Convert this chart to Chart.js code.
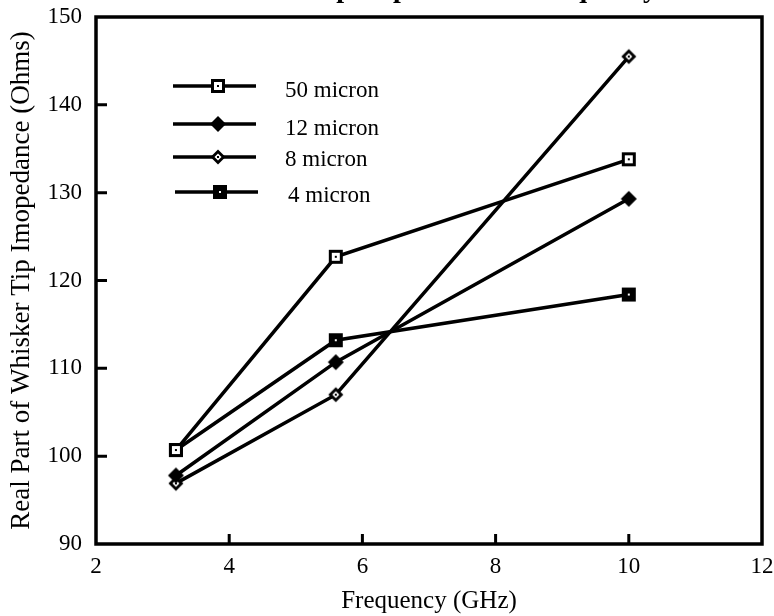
<!DOCTYPE html>
<html><head><meta charset="utf-8">
<script src="https://cdn.jsdelivr.net/npm/chart.js@4/dist/chart.umd.min.js"></script>
<style>html,body{margin:0;padding:0;background:#fff;}canvas{display:block;}</style>
</head><body>
<canvas id="c" width="774" height="616"></canvas>
<script>
const chartTitle = "Whisker Tip Impedance vs Frequency";
const xTitle = "Frequency (GHz)";
const yTitle = "Real Part of Whisker Tip Imopedance (Ohms)";
const freq = [3.2, 5.6, 10];
const seriesNames = ["50 micron", "12 micron", "8 micron", "4 micron"];
const s50 = [100.7, 122.7, 133.8];
const s12 = [97.8, 110.7, 129.3];
const s8  = [96.9, 107.0, 145.5];
const s4  = [100.7, 113.2, 118.4];
const xTicks = [2, 4, 6, 8, 10, 12];
const yTicks = [90, 100, 110, 120, 130, 140, 150];

const FONT = "'Liberation Serif', 'DejaVu Serif', serif";

function marker(kind) {
  const c = document.createElement('canvas');
  c.width = 18; c.height = 18;
  const g = c.getContext('2d');
  g.fillStyle = '#000';
  if (kind === 'openSquare') {
    g.fillRect(2, 2, 14, 14);
    g.fillStyle = '#fff'; g.fillRect(5, 5, 8, 8);
    g.fillStyle = '#000'; g.fillRect(8, 8, 2, 2);
  } else if (kind === 'filledSquare') {
    g.fillRect(2, 2, 14, 14);
    g.fillStyle = '#fff'; g.fillRect(8, 8, 2, 2);
  } else if (kind === 'filledDiamond') {
    g.beginPath(); g.moveTo(9, 1); g.lineTo(17, 9); g.lineTo(9, 17); g.lineTo(1, 9); g.closePath(); g.fill();
  } else if (kind === 'openDiamond') {
    g.beginPath(); g.moveTo(9, 1.5); g.lineTo(16.5, 9); g.lineTo(9, 16.5); g.lineTo(1.5, 9); g.closePath(); g.fill();
    g.fillStyle = '#fff';
    g.beginPath(); g.moveTo(9, 5.5); g.lineTo(12.5, 9); g.lineTo(9, 12.5); g.lineTo(5.5, 9); g.closePath(); g.fill();
    g.fillStyle = '#000'; g.fillRect(8, 8, 2, 2);
  }
  return c;
}
const markers = [marker('openSquare'), marker('filledDiamond'), marker('openDiamond'), marker('filledSquare')];
const values = [s50, s12, s8, s4];

const datasets = values.map((v, i) => ({
  label: seriesNames[i],
  data: freq.map((f, j) => ({x: f, y: v[j]})),
  showLine: true,
  borderColor: '#000',
  backgroundColor: '#000',
  borderWidth: 3.5,
  pointStyle: markers[i],
  pointRadius: 8,
  order: i
}));

const legendPos = [
  {x1: 173, x2: 256, y: 86, tx: 285, ty: 91},
  {x1: 173, x2: 256, y: 124, tx: 285, ty: 129},
  {x1: 173, x2: 256, y: 157, tx: 285, ty: 160},
  {x1: 175, x2: 258, y: 192, tx: 288, ty: 196}
];

const decor = {
  id: 'decor',
  beforeDatasetsDraw(chart) {
    const {ctx, chartArea: a, scales} = chart;
    ctx.save();
    ctx.strokeStyle = '#000';
    ctx.lineWidth = 3.5;
    ctx.strokeRect(a.left, a.top, a.right - a.left, a.bottom - a.top);
    ctx.lineWidth = 3;
    ctx.beginPath();
    xTicks.slice(1, -1).forEach(t => {
      const px = scales.x.getPixelForValue(t);
      ctx.moveTo(px, a.bottom); ctx.lineTo(px, a.bottom - 10);
    });
    yTicks.slice(1, -1).forEach(t => {
      const py = scales.y.getPixelForValue(t);
      ctx.moveTo(a.left, py); ctx.lineTo(a.left + 11, py);
    });
    ctx.stroke();
    ctx.restore();
  },
  afterDraw(chart) {
    const {ctx} = chart;
    ctx.save();
    // title (cut off at top edge)
    ctx.fillStyle = '#000';
    ctx.font = "bold 28px " + FONT;
    ctx.textAlign = 'right';
    ctx.textBaseline = 'alphabetic';
    ctx.fillText(chartTitle, 657, -3);
    // legend
    ctx.strokeStyle = '#000';
    ctx.lineWidth = 3.5;
    ctx.font = "23px " + FONT;
    ctx.textAlign = 'left';
    ctx.textBaseline = 'middle';
    legendPos.forEach((p, i) => {
      ctx.beginPath(); ctx.moveTo(p.x1, p.y); ctx.lineTo(p.x2, p.y); ctx.stroke();
      const m = markers[i];
      const mx = (p.x1 + p.x2) / 2 + 3;
      ctx.drawImage(m, Math.round(mx - m.width / 2), Math.round(p.y - m.height / 2));
      ctx.fillText(seriesNames[i], p.tx, p.ty);
    });
    ctx.restore();
  }
};

new Chart(document.getElementById('c'), {
  type: 'scatter',
  data: {datasets},
  options: {
    responsive: false,
    animation: false,
    devicePixelRatio: 1,
    layout: {padding: {top: 17, right: 12, left: 0, bottom: 0}},
    plugins: {legend: {display: false}, tooltip: {enabled: false}, title: {display: false}},
    scales: {
      x: {
        type: 'linear', min: 2, max: 12,
        afterBuildTicks: s => { s.ticks = xTicks.map(v => ({value: v})); },
        afterFit: s => { s.height = 72; s.paddingLeft = 0; s.paddingRight = 0; },
        grid: {display: false, drawTicks: false},
        border: {display: false},
        ticks: {color: '#000', font: {family: FONT, size: 23}, padding: 9, maxRotation: 0},
        title: {display: true, text: xTitle, color: '#000', font: {family: FONT, size: 25}, padding: {top: 0, bottom: 0}}
      },
      y: {
        type: 'linear', min: 90, max: 150,
        afterBuildTicks: s => { s.ticks = yTicks.map(v => ({value: v})); },
        afterFit: s => { s.width = 96; s.paddingTop = 0; s.paddingBottom = 0; },
        grid: {display: false, drawTicks: false},
        border: {display: false},
        ticks: {color: '#000', font: {family: FONT, size: 23}, padding: 14},
        title: {display: true, text: yTitle, color: '#000', font: {family: FONT, size: 27}, padding: {top: 6, bottom: 0}}
      }
    }
  },
  plugins: [decor]
});
</script>
</body></html>
